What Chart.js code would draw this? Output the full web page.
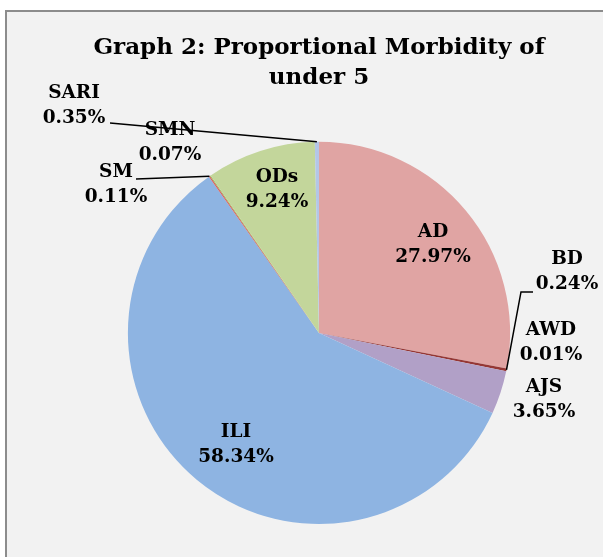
<!DOCTYPE html>
<html>
<head>
<meta charset="utf-8">
<script src="https://cdn.jsdelivr.net/npm/chart.js@4"></script>
<style>
    html, body { margin: 0; padding: 0; background: #ffffff; }
    #frame {
        position: absolute; left: 5px; top: 10px; width: 610px; height: 560px;
        border: 2px solid #8c8c8c; background: #f2f2f2;
    }
    #wrap { position: absolute; left: 0; top: 0; width: 603px; height: 557px; }
</style>
</head>
<body>
<div id="frame"></div>
<div id="wrap"><canvas id="pieChart" width="603" height="557"></canvas></div>
<script>
const categories = ['AD', 'BD', 'AWD', 'AJS', 'ILI', 'SM', 'SMN', 'ODs', 'SARI'];
const percentages = [27.97, 0.24, 0.01, 3.65, 58.34, 0.11, 0.07, 9.24, 0.35];
const sliceColors = ['#E0A4A3', '#953735', '#C0504D', '#B1A0C7', '#8EB4E2', '#D9605D', '#9BBB59', '#C3D69B', '#B3C6E7'];
const titleLines = ['Graph 2: Proportional Morbidity of', 'under 5'];

// label block centres, offset from the pie centre (px); leader = start / elbow points
const labelSpots = {
    AD:   { dx: 114, dy: -88 },
    BD:   { dx: 248, dy: -61, leader: [[214, -41], [202, -41]] },
    AWD:  { dx: 232, dy: 10 },
    AJS:  { dx: 225, dy: 67 },
    ILI:  { dx: -83, dy: 112 },
    SM:   { dx: -203, dy: -148, leader: [[-183, -154]] },
    SMN:  { dx: -149, dy: -190 },
    ODs:  { dx: -42, dy: -143 },
    SARI: { dx: -245, dy: -227, leader: [[-209, -210]] }
};

const LABEL_FONT = "bold 18.5px 'DejaVu Serif'";

const pieLabels = {
    id: 'pieLabels',
    afterDatasetsDraw(chart) {
        const ctx = chart.ctx;
        const arcs = chart.getDatasetMeta(0).data;
        ctx.save();
        arcs.forEach((arc, i) => {
            const spot = labelSpots[categories[i]];
            if (!spot) return;
            const cx = arc.x, cy = arc.y;
            if (spot.leader) {
                const mid = (arc.startAngle + arc.endAngle) / 2;
                const ex = cx + Math.cos(mid) * arc.outerRadius;
                const ey = cy + Math.sin(mid) * arc.outerRadius;
                ctx.beginPath();
                ctx.strokeStyle = '#000000';
                ctx.lineWidth = 1.5;
                ctx.moveTo(cx + spot.leader[0][0], cy + spot.leader[0][1]);
                spot.leader.slice(1).forEach(p => ctx.lineTo(cx + p[0], cy + p[1]));
                ctx.lineTo(ex, ey);
                ctx.stroke();
            }
            ctx.font = LABEL_FONT;
            ctx.fillStyle = '#000000';
            ctx.textAlign = 'center';
            ctx.textBaseline = 'middle';
            const x = cx + spot.dx, y = cy + spot.dy;
            ctx.fillText(categories[i], x, y - 12.5);
            ctx.fillText(percentages[i].toFixed(2) + '%', x, y + 12.5);
        });
        ctx.restore();
    }
};

function renderPie() {
    const ctx = document.getElementById('pieChart');
    new Chart(ctx, {
        type: 'pie',
        data: {
            labels: categories,
            datasets: [{
                data: percentages,
                backgroundColor: sliceColors,
                borderWidth: 0
            }]
        },
        options: {
            responsive: false,
            animation: false,
            layout: { padding: { left: 40, right: 5, top: 0, bottom: 33 } },
            plugins: {
                legend: { display: false },
                tooltip: { enabled: false },
                title: {
                    display: true,
                    text: titleLines,
                    color: '#000000',
                    font: { family: "'DejaVu Serif'", size: 23, weight: 'bold', lineHeight: 1.3 },
                    padding: { top: 33, bottom: 49 }
                }
            }
        },
        plugins: [pieLabels]
    });
}

document.addEventListener('DOMContentLoaded', renderPie);
</script>
</body>
</html>
